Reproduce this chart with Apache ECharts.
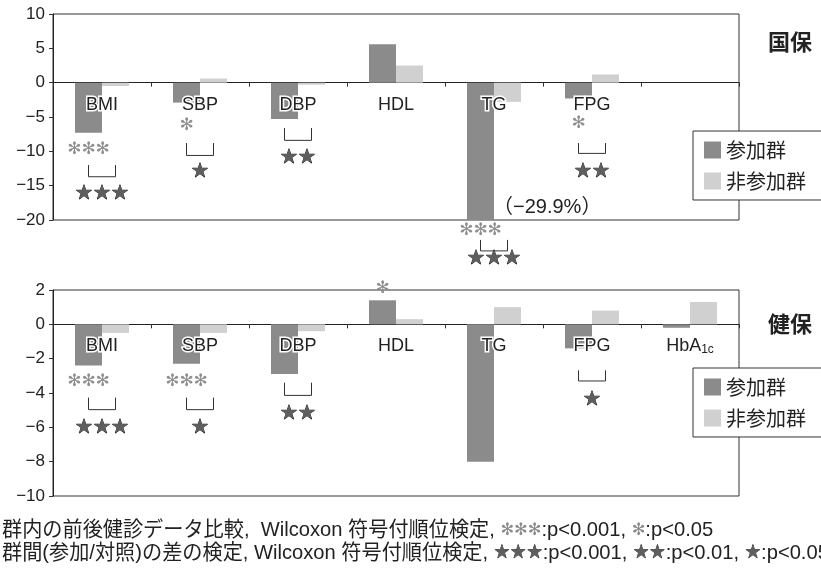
<!DOCTYPE html>
<html>
<head>
<meta charset="utf-8">
<script src="https://cdn.jsdelivr.net/npm/echarts@6/dist/echarts.min.js"></script>
<style>
  html, body { margin: 0; padding: 0; background: #fff; }
  #chart { width: 821px; height: 572px; }
</style>
</head>
<body>
<div id="chart"></div>
<script>
// Change from baseline health check (%), participants vs. non-participants
const categories = ['BMI', 'SBP', 'DBP', 'HDL', 'TG', 'FPG', 'HbA1c'];

// 国保
const kokuhoJoin = [-7.3, -2.9, -5.3, 5.6, -29.9, -2.3, null];
const kokuhoNon  = [-0.5, 0.6, -0.3, 2.5, -2.8, 1.2, null];
// 健保
const kenpoJoin  = [-2.4, -2.3, -2.9, 1.4, -8.0, -1.4, -0.2];
const kenpoNon   = [-0.5, -0.5, -0.4, 0.3, 1.0, 0.8, 1.3];

// Within-group test (asterisks) and between-group test (number of stars)
const kokuhoWithin  = ['***', '*', '', '', '***', '*', ''];
const kokuhoBetween = [3, 1, 2, 0, 3, 2, 0];
const kenpoWithin   = ['***', '***', '', '*', '', '', ''];
const kenpoBetween  = [3, 1, 2, 0, 0, 1, 0];

const seriesNames = ['参加群', '非参加群'];
const panelTitles = ['国保', '健保'];
const noteLines = [
  '群内の前後健診データ比較,  Wilcoxon 符号付順位検定, {a|✻✻✻}:p<0.001, {a|✻}:p<0.05',
  '群間(参加/対照)の差の検定, Wilcoxon 符号付順位検定, {s|★★★}:p<0.001, {s|★★}:p<0.01, {s|★}:p<0.05'
];

// Vertical placement (axis units) of the significance marks per category
const kokuhoMarkY = [
  { ast: -9.7, br: [-12.0, -13.7], star: -16.2 },
  { ast: -6.3, br: [-8.8, -10.6], star: -13.0 },
  { br: [-6.6, -8.4], star: -11.0 },
  {},
  { ast: -21.5, br: [-22.9, -24.5], star: -25.6 },
  { ast: -6.0, br: [-8.8, -10.3], star: -13.0 },
  {}
];
const kenpoMarkY = [
  { ast: -3.35, br: [-4.27, -4.97], star: -6.04 },
  { ast: -3.35, br: [-4.27, -4.97], star: -6.0 },
  { br: [-3.4, -4.14], star: -5.2 },
  { ast: 2.08 },
  {},
  { br: [-2.68, -3.3], star: -4.37 },
  {}
];

const FONT = "'Liberation Sans', 'Noto Sans CJK JP', sans-serif";
const CJK = "'Noto Sans CJK JP', sans-serif";
const C_JOIN = '#8b8b8b';
const C_NON = '#d0d0d0';
const BAR_W = 27;

const minus = v => String(v).replace('-', '\u2212');
const astText = s => s.replace(/\*/g, '\u273B');

// Category names, significance marks and the out-of-range value note
function makeMarks(values, within, between, markY, extra) {
  return function (params, api) {
    const i = params.dataIndex;
    const m = markY[i];
    const children = [];
    const zero = api.coord([i, 0]);
    const center = zero[0];
    const xJoin = center - BAR_W / 2;
    const xNon = center + BAR_W / 2;
    if (values[i] != null) {
      const name = categories[i];
      const isHb = name === 'HbA1c';
      children.push({
        type: 'text', z2: 10,
        style: {
          text: isHb ? '{m|HbA}{sub|1c}' : name,
          x: center, y: zero[1] + 22,
          fill: '#222', stroke: '#fff', lineWidth: 3,
          font: '18px ' + FONT, align: 'center', verticalAlign: 'middle',
          rich: {
            m: { fontFamily: FONT, fontSize: 18, fill: '#222' },
            sub: { fontFamily: FONT, fontSize: 12, fill: '#222', padding: [7, 0, 0, 0] }
          }
        }
      });
    }
    if (within[i] && m.ast !== undefined) {
      const p = api.coord([i, m.ast]);
      children.push({
        type: 'text',
        style: {
          text: astText(within[i]), x: xJoin, y: p[1],
          fill: '#8f8f8f', font: "17px 'DejaVu Sans'",
          align: 'center', verticalAlign: 'middle'
        }
      });
    }
    if (between[i] && m.br) {
      const y1 = api.coord([i, m.br[0]])[1];
      const y2 = api.coord([i, m.br[1]])[1];
      children.push({
        type: 'polyline',
        shape: { points: [[xJoin, y1], [xJoin, y2], [xNon, y2], [xNon, y1]] },
        style: { stroke: '#333', lineWidth: 1, fill: null }
      });
      const ys = api.coord([i, m.star])[1];
      children.push({
        type: 'text',
        style: {
          text: '★'.repeat(between[i]), x: center, y: ys,
          fill: '#5e5e5e', stroke: '#111', lineWidth: 0.8,
          font: "20px 'DejaVu Sans'", align: 'center', verticalAlign: 'middle'
        }
      });
    }
    if (extra && extra.index === i) {
      const p = api.coord([i, extra.y]);
      children.push({
        type: 'text',
        style: {
          text: extra.text, x: center - 1, y: p[1],
          fill: '#222', font: '20px ' + FONT,
          align: 'left', verticalAlign: 'middle'
        }
      });
    }
    return { type: 'group', children: children };
  };
}

const chart = echarts.init(document.getElementById('chart'), null, { renderer: 'canvas' });

const grids = [
  { left: 53, top: 14, width: 686, height: 206 },
  { left: 53, top: 290, width: 686, height: 206 }
];

function xAxisFor(idx) {
  return {
    type: 'category', gridIndex: idx, data: categories,
    axisLine: { onZero: true, lineStyle: { color: '#222', width: 1 } },
    axisTick: { show: true, length: 4, lineStyle: { color: '#333' } },
    axisLabel: { show: false },
    splitLine: { show: false }
  };
}

function yAxisFor(idx, min, max, interval) {
  return {
    type: 'value', gridIndex: idx, min: min, max: max, interval: interval,
    axisLine: { show: true, lineStyle: { color: '#222', width: 1 } },
    axisTick: { show: true, length: 4, lineStyle: { color: '#333' } },
    axisLabel: { margin: 8, fontFamily: FONT, fontSize: 17, color: '#222', formatter: minus },
    splitLine: { show: false }
  };
}

function barSeries(name, idx, data, color) {
  return {
    name: name, type: 'bar', xAxisIndex: idx, yAxisIndex: idx,
    data: data, barWidth: BAR_W, barGap: '0%',
    itemStyle: { color: color }, clip: true, z: 2
  };
}

const tgIndex = categories.indexOf('TG');

const option = {
  animation: false,
  backgroundColor: '#fff',
  title: panelTitles.map((t, k) => ({
    text: t, left: 768, top: k === 0 ? 31 : 313, padding: 0,
    textStyle: { fontFamily: CJK, fontSize: 22, fontWeight: 'bold', color: '#222' }
  })),
  legend: [131, 368].map(top => ({
    data: seriesNames, orient: 'vertical', left: 693, top: top,
    itemWidth: 17, itemHeight: 17, itemGap: 11,
    padding: [9, 34, 9, 11],
    borderColor: '#333', borderWidth: 1, backgroundColor: '#fff',
    icon: 'rect',
    textStyle: { fontFamily: CJK, fontSize: 20, color: '#222' }
  })),
  grid: grids.map(g => Object.assign({ show: true, borderColor: '#333', borderWidth: 1, backgroundColor: 'transparent' }, g)),
  xAxis: [xAxisFor(0), xAxisFor(1)],
  yAxis: [yAxisFor(0, -20, 10, 5), yAxisFor(1, -10, 2, 2)],
  series: [
    barSeries(seriesNames[0], 0, kokuhoJoin, C_JOIN),
    barSeries(seriesNames[1], 0, kokuhoNon, C_NON),
    barSeries(seriesNames[0], 1, kenpoJoin, C_JOIN),
    barSeries(seriesNames[1], 1, kenpoNon, C_NON),
    {
      name: 'marks-kokuho', type: 'custom', xAxisIndex: 0, yAxisIndex: 0,
      clip: false, silent: true, z: 5,
      data: categories.map((c, i) => [i, 0]),
      renderItem: makeMarks(kokuhoJoin, kokuhoWithin, kokuhoBetween, kokuhoMarkY, {
        index: tgIndex, y: -18.2,
        text: '\uFF08' + minus(kokuhoJoin[tgIndex].toFixed(1)) + '%\uFF09'
      })
    },
    {
      name: 'marks-kenpo', type: 'custom', xAxisIndex: 1, yAxisIndex: 1,
      clip: false, silent: true, z: 5,
      data: categories.map((c, i) => [i, 0]),
      renderItem: makeMarks(kenpoJoin, kenpoWithin, kenpoBetween, kenpoMarkY, null)
    }
  ],
  graphic: noteLines.map((line, k) => ({
    type: 'text', left: 2, top: k === 0 ? 520 : 543,
    scaleX: 0.96,
    style: {
      text: line, fill: '#222', font: '21px ' + FONT,
      rich: {
        a: { fill: '#8a8a8a', fontFamily: 'DejaVu Sans', fontSize: 17 },
        s: { fill: '#5e5e5e', stroke: '#111', lineWidth: 0.7, fontFamily: 'DejaVu Sans', fontSize: 19 }
      }
    }
  }))
};

chart.setOption(option);
</script>
</body>
</html>
